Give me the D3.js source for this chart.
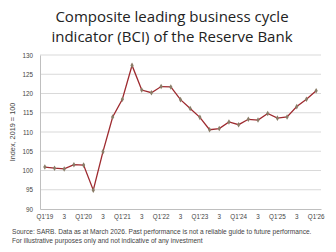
<!DOCTYPE html>
<html>
<head>
<meta charset="utf-8">
<script src="https://cdn.jsdelivr.net/npm/d3@7"></script>
<style>
  body { margin: 0; background: #fff; }
  svg { display: block; font-family: 'Open Sans', sans-serif; }
</style>
</head>
<body>
<div id="chart"></div>
<script>
const years = ['19', '20', '21', '22', '23', '24', '25', '26'];
const quarters = years.flatMap(y => [1, 2, 3, 4].map(q => `Q${q}'${y}`)).slice(0, 29);
const bciValues = [
  100.9, 100.6, 100.4, 101.5, 101.4, 94.9, 104.9, 113.9,
  118.5, 127.3, 120.9, 120.2, 121.8, 121.7, 118.4, 116.1,
  113.8, 110.6, 110.9, 112.6, 111.9, 113.3, 113.1, 114.8,
  113.6, 113.9, 116.6, 118.5, 120.7
];
const yTicks = [90, 95, 100, 105, 110, 115, 120, 125, 130];

const W = 336, H = 252;
const m = { left: 40, right: 15, top: 55, bottom: 43 };

const svg = d3.select('#chart').append('svg')
  .attr('width', W).attr('height', H);

// title
const title = svg.append('text')
  .attr('text-anchor', 'middle')
  .attr('fill', '#222')
  .style('font-size', '15px');
title.append('tspan').attr('x', 172).attr('y', 22).text('Composite leading business cycle');
title.append('tspan').attr('x', 172).attr('y', 42).text('indicator (BCI) of the Reserve Bank');

const x = d3.scaleBand().domain(quarters).range([m.left, W - m.right]);
const y = d3.scaleLinear().domain([90, 130]).range([H - m.bottom, m.top]);

// grid
svg.append('g')
  .selectAll('line')
  .data(yTicks.slice(1))
  .enter()
  .append('line')
  .attr('x1', m.left).attr('x2', W - m.right)
  .attr('y1', d => y(d)).attr('y2', d => y(d))
  .attr('stroke', '#d9d9d9').attr('stroke-width', 1);

// y axis
const yAxis = svg.append('g')
  .attr('transform', `translate(${m.left},0)`)
  .call(d3.axisLeft(y).tickValues(yTicks).tickSize(0).tickPadding(7));
yAxis.select('.domain').attr('stroke', '#bfbfbf');
yAxis.selectAll('text').attr('fill', '#444').style('font-size', '6.3px')
  .style('font-family', "'Liberation Sans', sans-serif");

// x axis
const xAxis = svg.append('g')
  .attr('transform', `translate(0,${H - m.bottom})`)
  .call(d3.axisBottom(x)
    .tickValues(quarters.filter((_, i) => i % 2 === 0))
    .tickFormat(d => d.startsWith('Q1') ? d : '3')
    .tickSize(0).tickPadding(6));
xAxis.select('.domain').attr('stroke', '#bfbfbf');
xAxis.selectAll('text').attr('fill', '#444').style('font-size', '6.3px')
  .style('font-family', "'Liberation Sans', sans-serif");

// y label
svg.append('text')
  .attr('transform', `translate(15,${y(110)}) rotate(-90)`)
  .attr('text-anchor', 'middle')
  .attr('fill', '#444')
  .style('font-size', '7.3px')
  .style('font-family', "'Liberation Sans', sans-serif")
  .text('Index, 2019 = 100');

// line
const cx = d => x(d) + x.bandwidth() / 2;
svg.append('path')
  .datum(bciValues)
  .attr('fill', 'none')
  .attr('stroke', '#9e2a2f')
  .attr('stroke-width', 1.3)
  .attr('d', d3.line().x((d, i) => cx(quarters[i])).y(d => y(d)));

svg.append('g')
  .selectAll('path')
  .data(bciValues)
  .enter()
  .append('path')
  .attr('d', d3.symbol(d3.symbolDiamond, 9))
  .attr('transform', (d, i) => `translate(${cx(quarters[i])},${y(d)})`)
  .attr('fill', '#8a7d68');

// footnote
const note = svg.append('text')
  .attr('fill', '#444')
  .style('font-size', '6.6px')
  .style('font-family', "'Liberation Sans', sans-serif");
note.append('tspan').attr('x', 12).attr('y', 234)
  .text('Source: SARB. Data as at March 2026. Past performance is not a reliable guide to future performance.');
note.append('tspan').attr('x', 12).attr('y', 243)
  .text('For illustrative purposes only and not indicative of any investment');
</script>
</body>
</html>
